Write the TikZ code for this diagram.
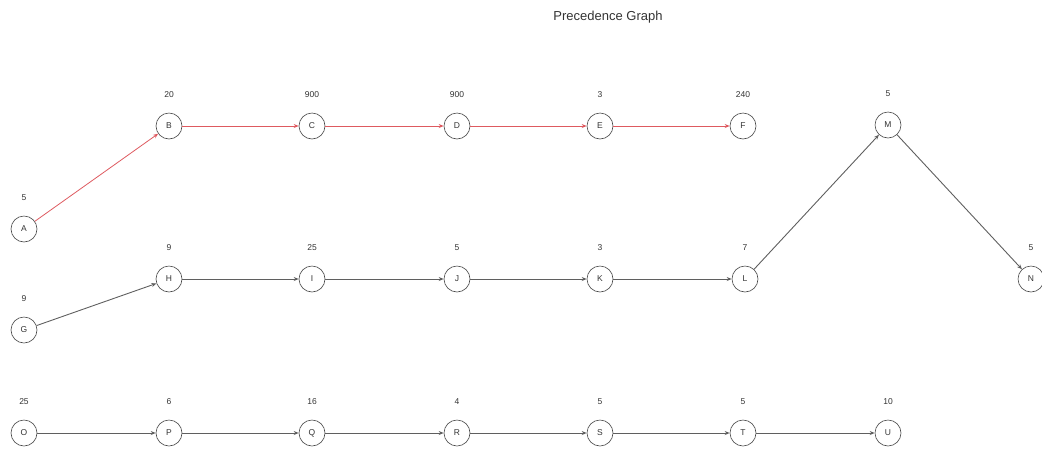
\documentclass[tikz,border=0pt]{standalone}
\usepackage{fontspec}
\setmainfont{Liberation Sans}
\usetikzlibrary{arrows.meta}
\definecolor{critred}{RGB}{222,90,96}
\definecolor{edgegray}{RGB}{95,95,95}
\definecolor{ringgray}{RGB}{70,70,70}
\tikzset{
  task/.style={circle, draw=ringgray, line width=0.6pt, minimum size=26pt, inner sep=0pt,
    font=\fontsize{8.5}{10}\selectfont, text=black!80},
  dur/.style={font=\fontsize{8.5}{10}\selectfont, text=black!80},
  link/.style={draw=edgegray, line width=0.9pt, -{Stealth[length=5pt,width=4pt]}},
  critlink/.style={link, draw=critred, line width=0.8pt},
}
\begin{document}
\begin{tikzpicture}[x=1pt, y=-1pt]
\useasboundingbox (0,0) rectangle (1042,451);
\node[font=\fontsize{13}{16}\selectfont, text=black!80] (title) at (608,17) {Precedence Graph};

% task circles
\node[task] (A) at (24,229) {A};
\node[task] (B) at (169,126) {B};
\node[task] (C) at (312,126) {C};
\node[task] (D) at (457,126) {D};
\node[task] (E) at (600,126) {E};
\node[task] (F) at (743,126) {F};
\node[task] (M) at (888,125) {M};
\node[task] (G) at (24,330) {G};
\node[task] (H) at (169,279) {H};
\node[task] (I) at (312,279) {I};
\node[task] (J) at (457,279) {J};
\node[task] (K) at (600,279) {K};
\node[task] (L) at (745,279) {L};
\node[task] (N) at (1031,279) {N};
\node[task] (O) at (24,433) {O};
\node[task] (P) at (169,433) {P};
\node[task] (Q) at (312,433) {Q};
\node[task] (R) at (457,433) {R};
\node[task] (S) at (600,433) {S};
\node[task] (T) at (743,433) {T};
\node[task] (U) at (888,433) {U};

% durations above each task
\foreach \n/\d in {A/5,B/20,C/900,D/900,E/3,F/240,M/5,G/9,H/9,I/25,J/5,K/3,L/7,N/5,O/25,P/6,Q/16,R/4,S/5,T/5,U/10}
  \node[dur] (d\n) at ([yshift=31pt]\n.center) {\d};

% critical path
\foreach \a/\b in {A/B,B/C,C/D,D/E,E/F}
  \draw[critlink] (\a) -- (\b);

% other dependencies
\foreach \a/\b in {G/H,H/I,I/J,J/K,K/L,L/M,M/N,O/P,P/Q,Q/R,R/S,S/T,T/U}
  \draw[link] (\a) -- (\b);
\end{tikzpicture}
\end{document}
